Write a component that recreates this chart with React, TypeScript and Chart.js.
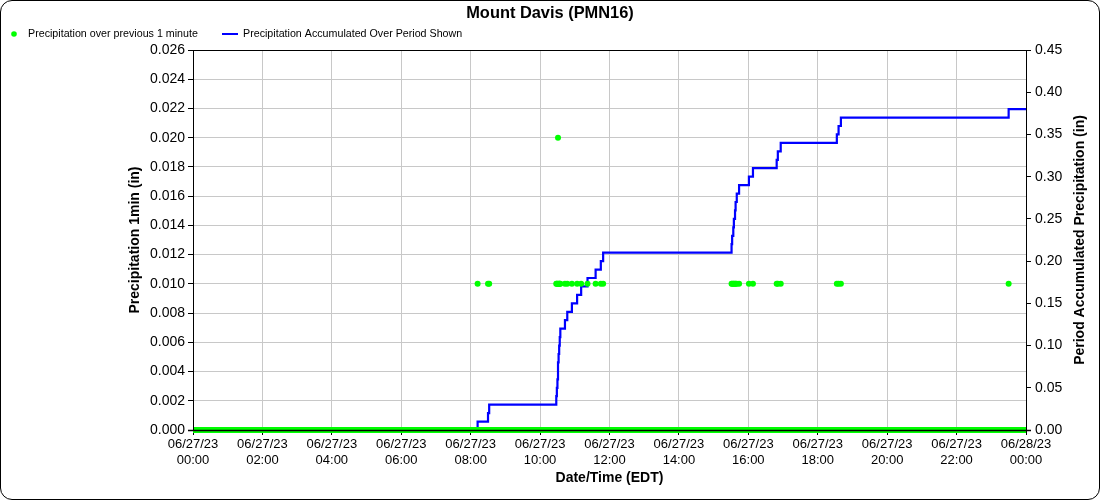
import React, { useEffect, useRef } from 'react';
import { Chart, registerables } from 'chart.js';

Chart.register(...registerables);

const chartTitle = 'Mount Davis (PMN16)';
const series1Name = 'Precipitation over previous 1 minute';
const series2Name = 'Precipitation Accumulated Over Period Shown';
const leftAxisTitle = 'Precipitation 1min (in)';
const rightAxisTitle = 'Period Accumulated Precipitation (in)';
const xAxisTitle = 'Date/Time (EDT)';

const xTickDates = [
  '06/27/23', '06/27/23', '06/27/23', '06/27/23', '06/27/23', '06/27/23', '06/27/23',
  '06/27/23', '06/27/23', '06/27/23', '06/27/23', '06/27/23', '06/28/23',
];
const xTickTimes = [
  '00:00', '02:00', '04:00', '06:00', '08:00', '10:00', '12:00',
  '14:00', '16:00', '18:00', '20:00', '22:00', '00:00',
];

// Precipitation over previous 1 minute (non-zero readings)
const precip1minTimes = [
  '08:12', '08:30', '08:32',
  '10:28', '10:29', '10:30', '10:31', '10:32', '10:33', '10:34', '10:35', '10:43', '10:47', '10:55',
  '11:04', '11:11', '11:22', '11:36', '11:45', '11:49',
  '15:31', '15:32', '15:34', '15:35', '15:37', '15:38', '15:40', '15:44', '16:01', '16:08',
  '16:49', '16:51', '16:56', '18:33', '18:36', '18:40', '23:30',
];
const precip1minValues = [
  0.01, 0.01, 0.01,
  0.01, 0.01, 0.01, 0.02, 0.01, 0.01, 0.01, 0.01, 0.01, 0.01, 0.01,
  0.01, 0.01, 0.01, 0.01, 0.01, 0.01,
  0.01, 0.01, 0.01, 0.01, 0.01, 0.01, 0.01, 0.01, 0.01, 0.01,
  0.01, 0.01, 0.01, 0.01, 0.01, 0.01, 0.01,
];
// zero readings cover the whole period
const zeroTimes = ['00:00', '24:00'];
const zeroValues = [0, 0];

// Accumulated precipitation
const accumTimes = [
  '00:00', '08:12', '08:30', '08:32',
  '10:28', '10:29', '10:30', '10:31', '10:32', '10:33', '10:34', '10:35', '10:43', '10:47', '10:55',
  '11:04', '11:11', '11:22', '11:36', '11:45', '11:49',
  '15:31', '15:32', '15:34', '15:35', '15:37', '15:38', '15:40', '15:44', '16:01', '16:08',
  '16:49', '16:51', '16:56', '18:33', '18:36', '18:40', '23:30', '24:00',
];
const accumValues = [
  0, 0.01, 0.02, 0.03,
  0.04, 0.05, 0.06, 0.08, 0.09, 0.10, 0.11, 0.12, 0.13, 0.14, 0.15,
  0.16, 0.17, 0.18, 0.19, 0.20, 0.21,
  0.22, 0.23, 0.24, 0.25, 0.26, 0.27, 0.28, 0.29, 0.30, 0.31,
  0.32, 0.33, 0.34, 0.35, 0.36, 0.37, 0.38, 0.38,
];

const FONT = "'Liberation Sans', Arial, sans-serif";

const toMin = (t: string) => {
  const [h, m] = t.split(':').map(Number);
  return h * 60 + m;
};
const pts = (times: string[], vals: number[]) => times.map((t, i) => ({ x: toMin(t), y: vals[i] }));

const decor = {
  id: 'decor',
  afterDatasetsDraw(chart: any) {
    const { ctx, chartArea: a } = chart;
    ctx.save();
    ctx.strokeStyle = '#000';
    ctx.lineWidth = 1;
    ctx.strokeRect(a.left + 0.5, a.top + 0.5, a.right - a.left, a.bottom - a.top);
    ctx.lineWidth = 1.5;
    ctx.beginPath();
    ctx.moveTo(a.left - 5, a.bottom + 0.5);
    ctx.lineTo(a.right + 5, a.bottom + 0.5);
    ctx.stroke();
    ctx.restore();
  },
  afterDraw(chart: any) {
    const { ctx, chartArea: a } = chart;
    ctx.save();
    ctx.fillStyle = '#000';
    ctx.textAlign = 'center';
    ctx.textBaseline = 'middle';
    ctx.font = `bold 16.4px ${FONT}`;
    ctx.fillText(chartTitle, 549, 12.5);

    // right axis title, reading bottom to top
    ctx.save();
    ctx.font = `bold 14px ${FONT}`;
    ctx.translate(1079, (a.top + a.bottom) / 2);
    ctx.rotate(-Math.PI / 2);
    ctx.fillText(rightAxisTitle, 0, 0);
    ctx.restore();

    ctx.textAlign = 'left';
    ctx.font = `10.7px ${FONT}`;
    ctx.fillStyle = '#00ff00';
    ctx.beginPath();
    ctx.arc(13, 33, 2.8, 0, Math.PI * 2);
    ctx.fill();
    ctx.fillStyle = '#000';
    ctx.fillText(series1Name, 27, 33);

    ctx.strokeStyle = '#0000ff';
    ctx.lineWidth = 2;
    ctx.beginPath();
    ctx.moveTo(221, 33);
    ctx.lineTo(237, 33);
    ctx.stroke();
    ctx.fillText(series2Name, 242, 33);
    ctx.restore();
  },
};

export default function App() {
  const ref = useRef<HTMLCanvasElement>(null);

  useEffect(() => {
    if (!ref.current) return;
    const chart = new Chart(ref.current, {
      type: 'line',
      data: {
        datasets: [
          {
            label: series1Name,
            data: pts(precip1minTimes, precip1minValues),
            yAxisID: 'y',
            showLine: false,
            pointRadius: 3,
            pointBorderWidth: 0,
            pointBackgroundColor: '#00ff00',
            backgroundColor: '#00ff00',
            borderColor: '#00ff00',
            order: 1,
          },
          {
            label: series1Name + ' (zero)',
            data: pts(zeroTimes, zeroValues),
            yAxisID: 'y',
            borderColor: '#00ff00',
            borderWidth: 6,
            pointRadius: 0,
            clip: { left: 1, right: 1, top: 6, bottom: 6 },
            order: 2,
          },
          {
            label: series2Name,
            data: pts(accumTimes, accumValues),
            yAxisID: 'y2',
            borderColor: '#0000ff',
            backgroundColor: '#0000ff',
            borderWidth: 2.2,
            pointRadius: 0,
            stepped: 'before',
            order: 3,
          },
        ],
      },
      options: {
        responsive: false,
        animation: false,
        devicePixelRatio: 1,
        layout: { padding: { top: 49, left: 0, right: 0, bottom: 0 } },
        plugins: {
          legend: { display: false },
          title: { display: false },
          tooltip: { enabled: false },
        },
        scales: {
          x: {
            type: 'linear',
            min: 0,
            max: 1440,
            afterFit: (s: any) => { s.height = 69; },
            ticks: {
              stepSize: 120,
              autoSkip: false,
              maxRotation: 0,
              padding: 2,
              color: '#000',
              font: { family: FONT, size: 13 },
              callback: (v: any) => {
                const i = Math.round(Number(v) / 120);
                return [xTickDates[i], xTickTimes[i]];
              },
            },
            grid: { color: '#c8c8c8', tickColor: '#000', tickLength: 5 },
            border: { color: '#000' },
            title: {
              display: true,
              text: xAxisTitle,
              color: '#000',
              font: { family: FONT, size: 14, weight: 'bold' },
              padding: { top: 0, bottom: 12.6 },
            },
          },
          y: {
            position: 'left',
            min: 0,
            max: 0.026,
            afterFit: (s: any) => { s.width = 192; },
            ticks: {
              stepSize: 0.002,
              padding: 3,
              color: '#000',
              font: { family: FONT, size: 14 },
              callback: (v: any) => Number(v).toFixed(3),
            },
            grid: { color: '#c8c8c8', tickColor: '#000', tickLength: 5 },
            border: { color: '#000' },
            title: {
              display: true,
              text: leftAxisTitle,
              color: '#000',
              font: { family: FONT, size: 14, weight: 'bold' },
              padding: { top: 125.6, bottom: 0 },
            },
          },
          y2: {
            position: 'right',
            min: 0,
            max: 0.45,
            afterFit: (s: any) => { s.width = 73; },
            ticks: {
              stepSize: 0.05,
              padding: 4,
              color: '#000',
              font: { family: FONT, size: 14 },
              callback: (v: any) => Number(v).toFixed(2),
            },
            grid: { drawOnChartArea: false, color: '#c8c8c8', tickColor: '#000', tickLength: 5 },
            border: { color: '#000' },
            title: { display: false },
          },
        },
      } as any,
      plugins: [decor],
    });
    return () => chart.destroy();
  }, []);

  return (
    <div
      style={{
        position: 'absolute',
        left: 0,
        top: 0,
        width: 1098,
        height: 498,
        border: '1px solid #000',
        borderRadius: 12,
        background: '#fff',
        overflow: 'hidden',
      }}
    >
      <canvas ref={ref} width={1098} height={498} style={{ display: 'block', width: 1098, height: 498 }} />
    </div>
  );
}
